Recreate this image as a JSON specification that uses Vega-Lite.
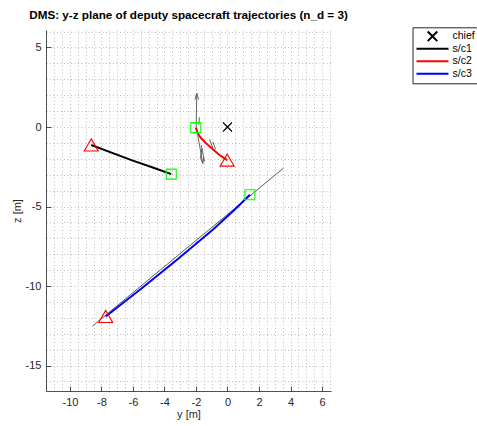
{
  "$schema": "https://vega.github.io/schema/vega-lite/v6.json",
  "width": 285,
  "height": 361,
  "autosize": {"type": "none"},
  "padding": {"left": 46, "top": 30, "right": 146, "bottom": 35},
  "background": "white",
  "title": {"text": "DMS: y-z plane of deputy spacecraft trajectories (n_d = 3)", "font": "Liberation Sans", "fontSize": 11.7, "fontWeight": "bold", "color": "black", "anchor": "middle", "frame": "group", "baseline": "alphabetic", "offset": 10.5, "dy": 16},
  "config": {
    "view": {"stroke": null},
    "font": "Liberation Sans",
    "axis": {
      "domainColor": "#262626", "domainWidth": 0.8,
      "tickColor": "#262626", "tickWidth": 0.8, "tickSize": -5,
      "labelColor": "#262626", "labelFontSize": 11, "labelFont": "Liberation Sans",
      "titleColor": "#262626", "titleFontSize": 11, "titleFontWeight": "normal", "titleFont": "Liberation Sans",
      "grid": true, "gridColor": "#bdbdbd", "gridDash": [1, 2.5], "gridWidth": 1,
      "labelOverlap": false, "labelFlush": false
    },
    "legend": {"title": null, "orient": "none", "legendX": 366.5, "legendY": -2.7, "strokeColor": "#262626", "fillColor": "white", "padding": 3, "symbolSize": 1024, "symbolStrokeWidth": 2, "clipHeight": 12, "rowPadding": 0.5, "labelFontSize": 10.5, "labelColor": "black", "labelOffset": 3, "labelFont": "Liberation Sans", "symbolOffset": 0, "cornerRadius": 0}
  },
  "datasets": {
    "traj": [
      {"series": "s/c1", "i": 0, "y": -8.65, "z": -1.13},
      {"series": "s/c1", "i": 1, "y": -7.28, "z": -1.64},
      {"series": "s/c1", "i": 2, "y": -6.01, "z": -2.11},
      {"series": "s/c1", "i": 3, "y": -4.74, "z": -2.55},
      {"series": "s/c1", "i": 4, "y": -3.57, "z": -2.96},
      {"series": "s/c2", "i": 0, "y": -2.01, "z": -0.04},
      {"series": "s/c2", "i": 1, "y": -1.89, "z": -0.40},
      {"series": "s/c2", "i": 2, "y": -1.67, "z": -0.71},
      {"series": "s/c2", "i": 3, "y": -1.35, "z": -1.03},
      {"series": "s/c2", "i": 4, "y": -0.93, "z": -1.40},
      {"series": "s/c2", "i": 5, "y": -0.51, "z": -1.76},
      {"series": "s/c2", "i": 6, "y": -0.02, "z": -2.08},
      {"series": "s/c3", "i": 0, "y": -7.73, "z": -11.91},
      {"series": "s/c3", "i": 1, "y": -5.46, "z": -10.15},
      {"series": "s/c3", "i": 2, "y": -3.17, "z": -8.32},
      {"series": "s/c3", "i": 3, "y": -0.88, "z": -6.42},
      {"series": "s/c3", "i": 4, "y": 0.50, "z": -5.15},
      {"series": "s/c3", "i": 5, "y": 1.42, "z": -4.26}
    ],
    "markers": [
      {"kind": "start", "series": "s/c1", "y": -3.57, "z": -2.96},
      {"kind": "start", "series": "s/c2", "y": -2.01, "z": -0.04},
      {"kind": "start", "series": "s/c3", "y": 1.42, "z": -4.26},
      {"kind": "end", "series": "s/c1", "y": -8.65, "z": -1.13},
      {"kind": "end", "series": "s/c2", "y": -0.02, "z": -2.08},
      {"kind": "end", "series": "s/c3", "y": -7.73, "z": -11.91}
    ],
    "chief": [
      {"series": "chief", "y": 0, "z": 0}
    ],
    "quiver": [
      {"sc": "s/c2", "y": -1.99, "z": -0.04, "y2": -1.95, "z2": 2.12},
      {"sc": "s/c2", "y": -1.95, "z": 2.12, "y2": -2.07, "z2": 1.72},
      {"sc": "s/c2", "y": -1.95, "z": 2.12, "y2": -1.83, "z2": 1.72},
      {"sc": "s/c2", "y": -1.89, "z": -0.50, "y2": -1.57, "z2": -2.29},
      {"sc": "s/c2", "y": -1.57, "z": -2.29, "y2": -1.70, "z2": -1.95},
      {"sc": "s/c2", "y": -1.57, "z": -2.29, "y2": -1.50, "z2": -1.92},
      {"sc": "s/c2", "y": -1.67, "z": -1.13, "y2": -1.46, "z2": -2.18},
      {"sc": "s/c2", "y": -1.14, "z": -0.77, "y2": -0.93, "z2": -1.34},
      {"sc": "s/c2", "y": -0.93, "z": -0.92, "y2": -0.76, "z2": -1.40},
      {"sc": "s/c2", "y": -1.78, "z": 0.61, "y2": -1.82, "z2": 0.13},
      {"sc": "s/c2", "y": -1.61, "z": -1.34, "y2": -1.73, "z2": -1.97},
      {"sc": "s/c3", "y": -8.57, "z": -12.52, "y2": 3.56, "z2": -2.58}
    ]
  },
  "encoding": {
    "x": {
      "field": "y", "type": "quantitative",
      "scale": {"domain": [-11.52, 6.57], "nice": false, "zero": false},
      "axis": {
        "title": "y [m]",
        "values": [-11.5,-11,-10.5,-10,-9.5,-9,-8.5,-8,-7.5,-7,-6.5,-6,-5.5,-5,-4.5,-4,-3.5,-3,-2.5,-2,-1.5,-1,-0.5,0,0.5,1,1.5,2,2.5,3,3.5,4,4.5,5,5.5,6,6.5],
        "labelExpr": "datum.value % 2 === 0 ? '' + datum.value : ''",
        "tickOpacity": {"condition": {"test": "datum.value % 2 === 0", "value": 1}, "value": 0},
        "labelPadding": 10,
        "titleY": 23,
        "titleBaseline": "middle"
      }
    },
    "y": {
      "field": "z", "type": "quantitative",
      "scale": {"domain": [-16.6, 6.1], "nice": false, "zero": false},
      "axis": {
        "title": "z [m]",
        "values": [-16,-15,-14,-13,-12,-11,-10,-9,-8,-7,-6,-5,-4,-3,-2,-1,0,1,2,3,4,5,6],
        "labelExpr": "datum.value % 5 === 0 ? '' + datum.value : ''",
        "tickOpacity": {"condition": {"test": "datum.value % 5 === 0", "value": 1}, "value": 0},
        "labelPadding": 10,
        "titleX": -29,
        "titleBaseline": "middle"
      }
    },
    "color": {
      "field": "series", "type": "nominal",
      "scale": {"domain": ["chief", "s/c1", "s/c2", "s/c3"], "range": ["#000000", "#000000", "#ff0000", "#0000ff"]},
      "legend": {"encode": {"symbols": {"update": {"strokeWidth": {"value": 2}}}}}
    }
  },
  "layer": [
    {
      "data": {"name": "quiver"},
      "transform": [{"filter": "datum.sc === 's/c3'"}],
      "mark": {"type": "rule", "strokeWidth": 0.8, "clip": true},
      "encoding": {"x2": {"field": "y2"}, "y2": {"field": "z2"}, "color": {"value": "#333333"}}
    },
    {
      "data": {"name": "quiver"},
      "transform": [{"filter": "datum.sc === 's/c2'"}],
      "mark": {"type": "rule", "strokeWidth": 0.9, "clip": true},
      "encoding": {"x2": {"field": "y2"}, "y2": {"field": "z2"}, "color": {"value": "#555555"}}
    },
    {
      "data": {"name": "traj"},
      "mark": {"type": "line", "strokeWidth": 2, "clip": true},
      "encoding": {
        "detail": {"field": "series"},
        "order": {"field": "i", "type": "quantitative"}
      }
    },
    {
      "data": {"name": "markers"},
      "transform": [{"filter": "datum.kind === 'start'"}],
      "mark": {"type": "point", "shape": "square", "filled": false, "strokeWidth": 1.1, "size": 100, "opacity": 1},
      "encoding": {"color": {"value": "#00ff00"}}
    },
    {
      "data": {"name": "markers"},
      "transform": [{"filter": "datum.kind === 'end'"}],
      "mark": {"type": "point", "shape": "triangle-up", "filled": false, "strokeWidth": 1.1, "size": 196, "opacity": 1},
      "encoding": {"color": {"value": "#ff0000"}}
    },
    {
      "data": {"name": "chief"},
      "mark": {"type": "point", "filled": false, "strokeWidth": 1.1, "size": 900, "opacity": 1},
      "encoding": {
        "shape": {
          "field": "series", "type": "nominal",
          "scale": {"domain": ["chief", "s/c1", "s/c2", "s/c3"], "range": ["M-0.3,-0.3L0.3,0.3M0.3,-0.3L-0.3,0.3", "stroke", "stroke", "stroke"]}
        }
      }
    }
  ]
}
